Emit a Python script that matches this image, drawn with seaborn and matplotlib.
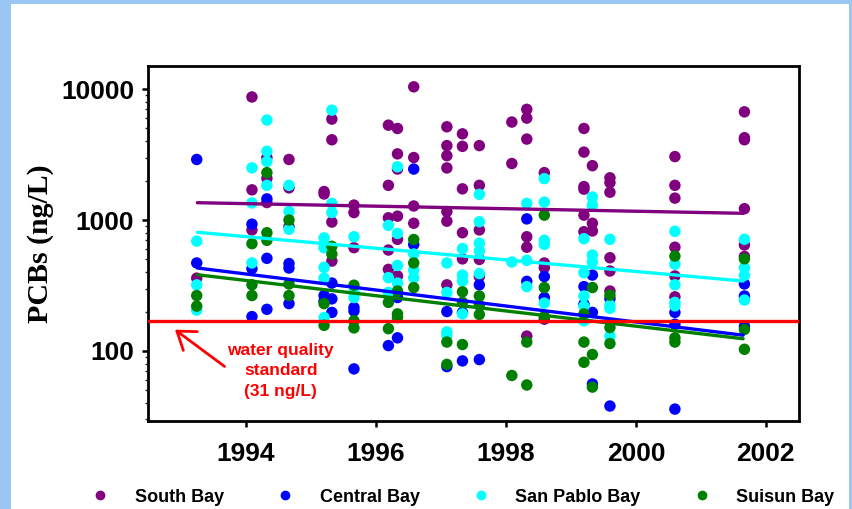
"""PCBs in San Francisco Bay water, 1993-2002, by region."""

import matplotlib.pyplot as plt
import numpy as np
import pandas as pd
import seaborn as sns
from matplotlib.lines import Line2D
from matplotlib.patches import Rectangle

# Sampling dates (decimal years)
sample_years = [1993.24, 1994.09, 1994.32, 1994.66, 1995.20, 1995.32, 1995.66,
                1996.19, 1996.33, 1996.58, 1997.09, 1997.33, 1997.59, 1998.09,
                1998.32, 1998.59, 1999.20, 1999.33, 1999.60, 2000.60, 2001.67]

# PCB concentrations (ng/L) per sampling date, per region
south_bay = [
    [360],
    [8700, 1700, 840],
    [3000, 2080, 1360],
    [2900, 1760, 890],
    [1650, 1580],
    [5900, 4100, 965, 486],
    [1300, 1140, 615],
    [5300, 1840, 1040, 590, 420],
    [5000, 3200, 2450, 1070, 712, 374],
    [10400, 3000, 1280, 945],
    [5150, 3700, 3100, 2500, 1160, 980, 320],
    [4550, 3650, 1730, 800, 505],
    [3700, 1840, 840, 500, 370],
    [5600, 2700],
    [7000, 6000, 4150, 745, 620, 130],
    [2300, 470, 433, 175],
    [5000, 3300, 1800, 1720, 1090, 814],
    [2600, 945, 825],
    [2100, 1930, 1630, 515, 408, 287],
    [3050, 1840, 1470, 620, 374, 259],
    [6700, 4250, 4100, 1220, 645, 527],
]
central_bay = [
    [2900, 470],
    [930, 425, 183],
    [1450, 510, 208],
    [465, 430, 230],
    [265, 240],
    [330, 250, 197],
    [215, 202, 73],
    [110],
    [256, 126],
    [2450, 650],
    [200, 76],
    [197, 84],
    [320, 86],
    [],
    [1020, 340],
    [370, 256],
    [310, 228],
    [380, 197, 56],
    [251, 38],
    [197, 160, 36],
    [325, 263, 154],
]
san_pablo_bay = [
    [690, 320, 205],
    [2500, 1350, 470],
    [5800, 3350, 2800, 1840],
    [1840, 1160, 850],
    [730, 615, 435, 360, 180],
    [6900, 1340, 1140],
    [745, 280, 256],
    [910, 363, 280],
    [2550, 790, 450, 330],
    [550, 415, 363],
    [470, 280, 140, 132],
    [605, 380, 342, 192],
    [1570, 970, 665, 580, 390],
    [478],
    [1340, 492, 310],
    [2070, 1370, 700, 652, 232],
    [720, 396, 263, 220, 170],
    [1500, 1300, 540, 478],
    [712, 224, 212, 130],
    [820, 460, 320, 235, 221],
    [712, 433, 378, 245],
]
suisun_bay = [
    [265, 220],
    [660, 320, 265],
    [2300, 800, 700],
    [1000, 325, 265],
    [230, 157],
    [630, 550],
    [318, 170, 150],
    [235, 148],
    [287, 192, 180],
    [710, 470, 305],
    [117, 79],
    [283, 235, 112],
    [263, 224, 190],
    [65],
    [117, 55],
    [1090, 305, 183],
    [192, 117, 82],
    [305, 94, 53],
    [267, 151, 114],
    [530, 126, 117],
    [505, 146, 103],
]

regions = ["South Bay", "Central Bay", "San Pablo Bay", "Suisun Bay"]
region_values = [south_bay, central_bay, san_pablo_bay, suisun_bay]
colors = ["#800080", "#0000ff", "#00ffff", "#008000"]

# Trend line end points (ng/L) as drawn in the picture
trend_years = [1993.25, 2001.65]
trend_values = {
    "South Bay": [1356, 1125],
    "Central Bay": [430, 132],
    "San Pablo Bay": [806, 342],
    "Suisun Bay": [382, 124],
}
standard_value = 170

rows = []
for region, per_date in zip(regions, region_values):
    for year, vals in zip(sample_years, per_date):
        for v in vals:
            rows.append({"Year": year, "PCBs": v, "Region": region})
df = pd.DataFrame(rows)

trend_df = pd.DataFrame([
    {"Year": yr, "PCBs": val, "Region": region}
    for region in regions
    for yr, val in zip(trend_years, trend_values[region])
])

sns.set_style("white")
plt.rcParams["font.family"] = ["Liberation Sans", "DejaVu Sans"]

fig = plt.figure(figsize=(8.52, 5.09), dpi=100)
fig.patch.set_facecolor("#99c6f2")
# white slide area inside the blue border
fig.patches.append(Rectangle((11 / 852, 0), 838 / 852, 505 / 509,
                             transform=fig.transFigure, facecolor="white",
                             edgecolor="none", zorder=-5))

ax = fig.add_axes([148 / 852, 88 / 509, 651 / 852, 355 / 509])
ax.set_facecolor("white")
palette = dict(zip(regions, colors))

sns.scatterplot(data=df, x="Year", y="PCBs", hue="Region", hue_order=regions,
                palette=palette, s=68, linewidth=0, legend=False, ax=ax, zorder=3)
sns.lineplot(data=trend_df, x="Year", y="PCBs", hue="Region", hue_order=regions,
             palette=palette, linewidth=2.4, legend=False, ax=ax, zorder=4)
ax.axhline(standard_value, color="#ff0000", linewidth=2.4, zorder=5)

ax.set_yscale("log")
ax.set_ylim(29.2, 15000)
ax.set_xlim(1992.49, 2002.51)
ax.set_xticks([1994, 1996, 1998, 2000, 2002])
ax.set_xticklabels(["1994", "1996", "1998", "2000", "2002"])
ax.set_yticks([100, 1000, 10000])
ax.set_yticklabels(["100", "1000", "10000"])

for lab in ax.get_xticklabels() + ax.get_yticklabels():
    lab.set_fontweight("bold")
    lab.set_fontsize(19)
    lab.set_color("black")
ax.tick_params(axis="both", which="major", direction="out", length=4, width=1.8,
               color="black", left=True, bottom=True)
ax.tick_params(axis="x", pad=11)
ax.tick_params(axis="y", pad=6)
ax.tick_params(axis="y", which="minor", direction="out", length=2.5, width=1.0,
               left=True)

for side in ["left", "bottom", "top", "right"]:
    ax.spines[side].set_visible(True)
    ax.spines[side].set_color("black")
    ax.spines[side].set_linewidth(2)

ax.set_xlabel("")
ax.set_ylabel("PCBs (ng/L)", fontsize=21.5, fontweight="bold", color="black",
              family=["Liberation Serif", "DejaVu Serif"])
ax.yaxis.set_label_coords(-0.145, 0.5)

# Water quality standard note
ax.annotate("", xy=(0.038, 0.262), xytext=(0.121, 0.149), xycoords="axes fraction",
            textcoords="axes fraction",
            arrowprops=dict(arrowstyle="->,head_length=0.5,head_width=0.35",
                            color="#ff0000", lw=2, mutation_scale=24))
ax.text(0.204, 0.141, "water quality\nstandard\n(31 ng/L)", transform=ax.transAxes,
        ha="center", va="center", color="#ff0000", fontsize=12.5,
        fontweight="bold", linespacing=1.45)

handles = [Line2D([0], [0], marker="o", linestyle="", markersize=6,
                  markerfacecolor=c, markeredgecolor=c) for c in colors]
fig.legend(handles, regions, loc="center", bbox_to_anchor=(0.538, 12 / 509),
           ncol=4, frameon=False, prop={"weight": "bold", "size": 13},
           labelcolor="black", handletextpad=0.9, columnspacing=2.4)

plt.savefig("out.png", dpi=100, facecolor=fig.get_facecolor())
